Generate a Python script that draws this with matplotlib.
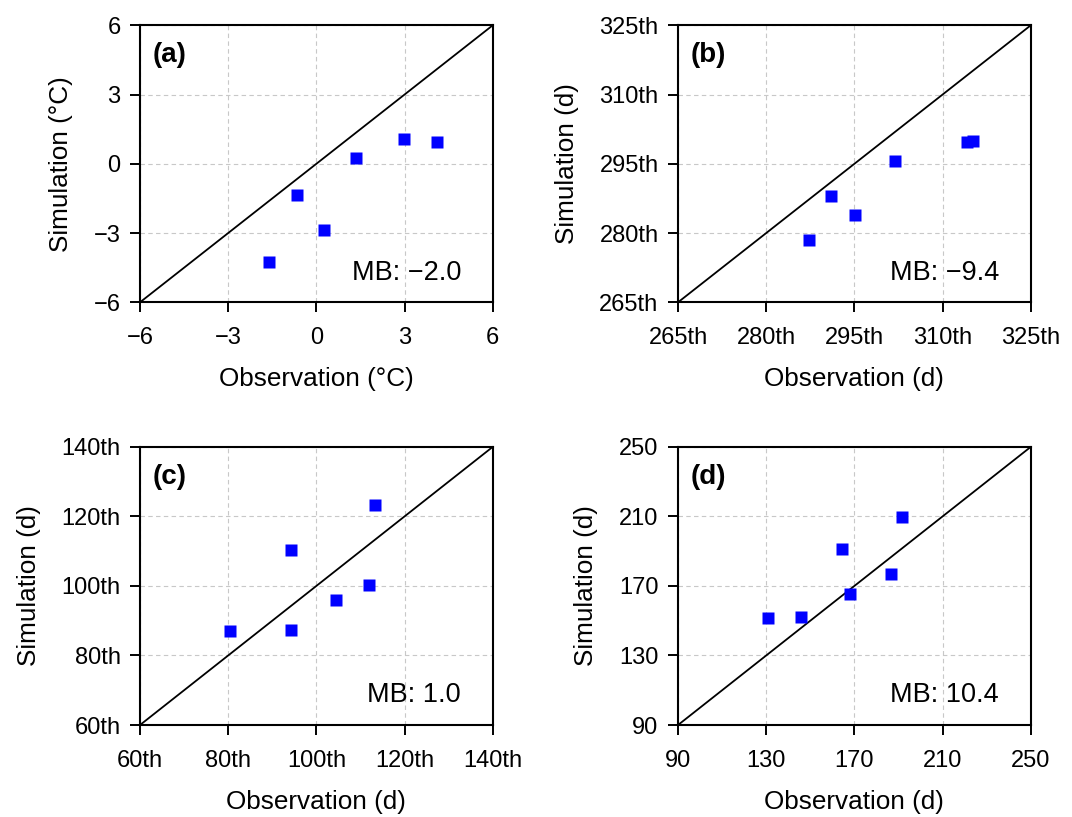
import matplotlib
matplotlib.use("Agg")
import matplotlib.pyplot as plt
import numpy as np

plt.rcParams.update({"font.family": ["Liberation Sans", "DejaVu Sans"], "font.size": 16})

# panel data
obs_a = [-1.62, -0.67, 0.25, 1.36, 2.99, 4.12]
sim_a = [-4.27, -1.37, -2.86, 0.25, 1.07, 0.93]
obs_b = [287.3, 291.1, 295.1, 301.9, 314.1, 315.2]
sim_b = [278.4, 288.1, 284.0, 295.6, 299.8, 300.0]
obs_c = [80.4, 94.2, 94.3, 104.5, 112.0, 113.3]
sim_c = [87.1, 110.4, 87.3, 96.0, 100.2, 123.3]
obs_d = [130.8, 145.7, 164.6, 167.9, 186.5, 191.4]
sim_d = [151.6, 152.0, 191.1, 165.2, 176.7, 209.6]

labels = ["(a)", "(b)", "(c)", "(d)"]
mb_text = ["MB: \u22122.0", "MB: \u22129.4", "MB: 1.0", "MB: 10.4"]
ranges = [(-6, 6), (265, 325), (60, 140), (90, 250)]
ticks = [[-6, -3, 0, 3, 6], [265, 280, 295, 310, 325],
         [60, 80, 100, 120, 140], [90, 130, 170, 210, 250]]
units = ["(\u00b0C)", "(d)", "(d)", "(d)"]
use_th = [False, True, True, False]

fig = plt.figure(figsize=(10.72, 8.17), dpi=100)
boxes = [(0.1306, 0.630, 0.329, 0.339), (0.6325, 0.630, 0.329, 0.339),
         (0.1306, 0.1126, 0.329, 0.3404), (0.6325, 0.1126, 0.329, 0.3404)]
data = [(obs_a, sim_a), (obs_b, sim_b), (obs_c, sim_c), (obs_d, sim_d)]

for i, box in enumerate(boxes):
    ax = fig.add_axes(box)
    lo, hi = ranges[i]
    ax.plot([lo, hi], [lo, hi], color="black", lw=1.3, zorder=2)
    x, y = data[i]
    ax.plot(x, y, "s", color="#0000ff", ms=8.3, mec="none", zorder=3)
    ax.set_xlim(lo, hi); ax.set_ylim(lo, hi)
    ax.set_xticks(ticks[i]); ax.set_yticks(ticks[i])
    if use_th[i]:
        fmt = lambda v, _: f"{int(v)}th"
    else:
        fmt = lambda v, _: f"{int(v)}".replace("-", "\u2212")
    ax.xaxis.set_major_formatter(fmt); ax.yaxis.set_major_formatter(fmt)
    ax.grid(True, ls=(0, (4, 3)), lw=0.8, color="#c8c8c8", zorder=0)
    ax.set_axisbelow(True)
    ax.tick_params(direction="out", length=7, width=1.4, labelsize=17)
    ax.tick_params(axis="x", pad=11)
    ax.tick_params(axis="y", pad=7)
    for s in ax.spines.values():
        s.set_linewidth(1.5)
    ax.set_xlabel("Observation " + units[i], fontsize=18.8, labelpad=13)
    ax.set_ylabel("Simulation " + units[i], fontsize=18.8, labelpad=15)
    ax.text(0.035, 0.94, labels[i], transform=ax.transAxes, fontsize=20,
            fontweight="bold", ha="left", va="top")
    ax.text(0.91, 0.06, mb_text[i], transform=ax.transAxes, fontsize=19.5,
            ha="right", va="bottom")

fig.savefig("out.png", dpi=100)
